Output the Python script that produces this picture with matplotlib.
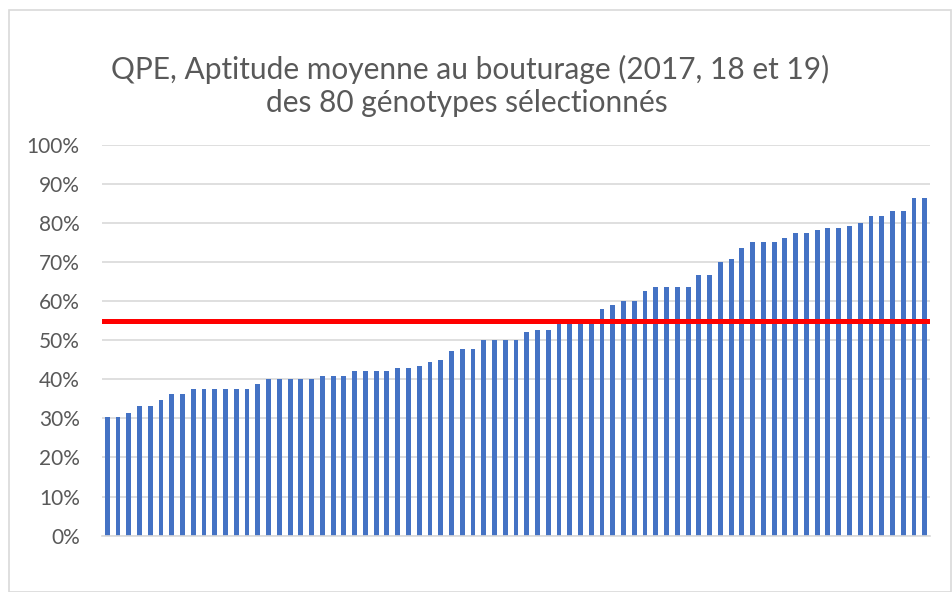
import matplotlib.pyplot as plt
from matplotlib.patches import Rectangle
from matplotlib.ticker import PercentFormatter

# Aptitude moyenne au bouturage par génotype
aptitude = [30.4, 30.4, 31.4, 33.2, 33.2, 34.8, 36.3, 36.3,
            37.5, 37.5, 37.5, 37.5, 37.5, 37.5, 38.9,
            40.0, 40.0, 40.0, 40.0, 40.0, 40.9, 40.9, 40.9,
            42.1, 42.1, 42.1, 42.1, 42.8, 42.8, 43.5, 44.5, 44.9,
            47.3, 47.7, 47.8, 50.0, 50.0, 50.0, 50.0,
            52.1, 52.6, 52.6, 54.3, 54.3, 54.3, 54.3,
            57.9, 59.1, 60.0, 60.0, 62.5, 63.6, 63.6, 63.6, 63.6,
            66.7, 66.7, 70.0, 70.8, 73.6, 75.0, 75.0, 75.0,
            76.2, 77.3, 77.3, 78.2, 78.8, 78.8, 79.1, 80.0,
            81.8, 81.8, 83.1, 83.1, 86.3, 86.3]
genotypes = list(range(1, len(aptitude) + 1))
seuil = 55.0
graduations = [0, 10, 20, 30, 40, 50, 60, 70, 80, 90, 100]

bleu = '#4472C4'
gris_texte = '#595959'
gris_grille = '#D9D9D9'

fig = plt.figure(figsize=(9.52, 5.92), dpi=100)
ax = fig.add_axes([0.107, 0.0951, 0.870, 0.6605])

ax.bar(genotypes, aptitude, width=0.45, color=bleu, zorder=2)
ax.axhline(seuil, color='#FF0000', linewidth=3.6, zorder=3)

ax.set_ylim(0, 100)
ax.set_xlim(0.5, len(aptitude) + 0.5)
ax.set_yticks(graduations)
ax.yaxis.set_major_formatter(PercentFormatter(decimals=0))
ax.set_xticks([])
ax.grid(axis='y', color=gris_grille, linewidth=1.2, zorder=0)
ax.set_axisbelow(True)
for cote in ['top', 'right', 'left']:
    ax.spines[cote].set_visible(False)
ax.spines['bottom'].set_color(gris_grille)
ax.spines['bottom'].set_linewidth(1.2)
ax.tick_params(axis='y', length=0, pad=16, labelsize=15, labelcolor=gris_texte)
for lab in ax.get_yticklabels():
    lab.set_fontfamily('Lato')

fig.text(0.494, 0.882, 'QPE, Aptitude moyenne au bouturage (2017, 18 et 19)',
         ha='center', va='center', fontsize=21.5, color=gris_texte, family='Lato')
fig.text(0.490, 0.826, 'des 80 génotypes sélectionnés',
         ha='center', va='center', fontsize=21.5, color=gris_texte, family='Lato')

# cadre du graphique
fig.patches.append(Rectangle((0.0095, 0.0), 0.989, 0.983, transform=fig.transFigure,
                             fill=False, edgecolor=gris_grille, linewidth=1.2))

fig.savefig('out.png', dpi=100)
